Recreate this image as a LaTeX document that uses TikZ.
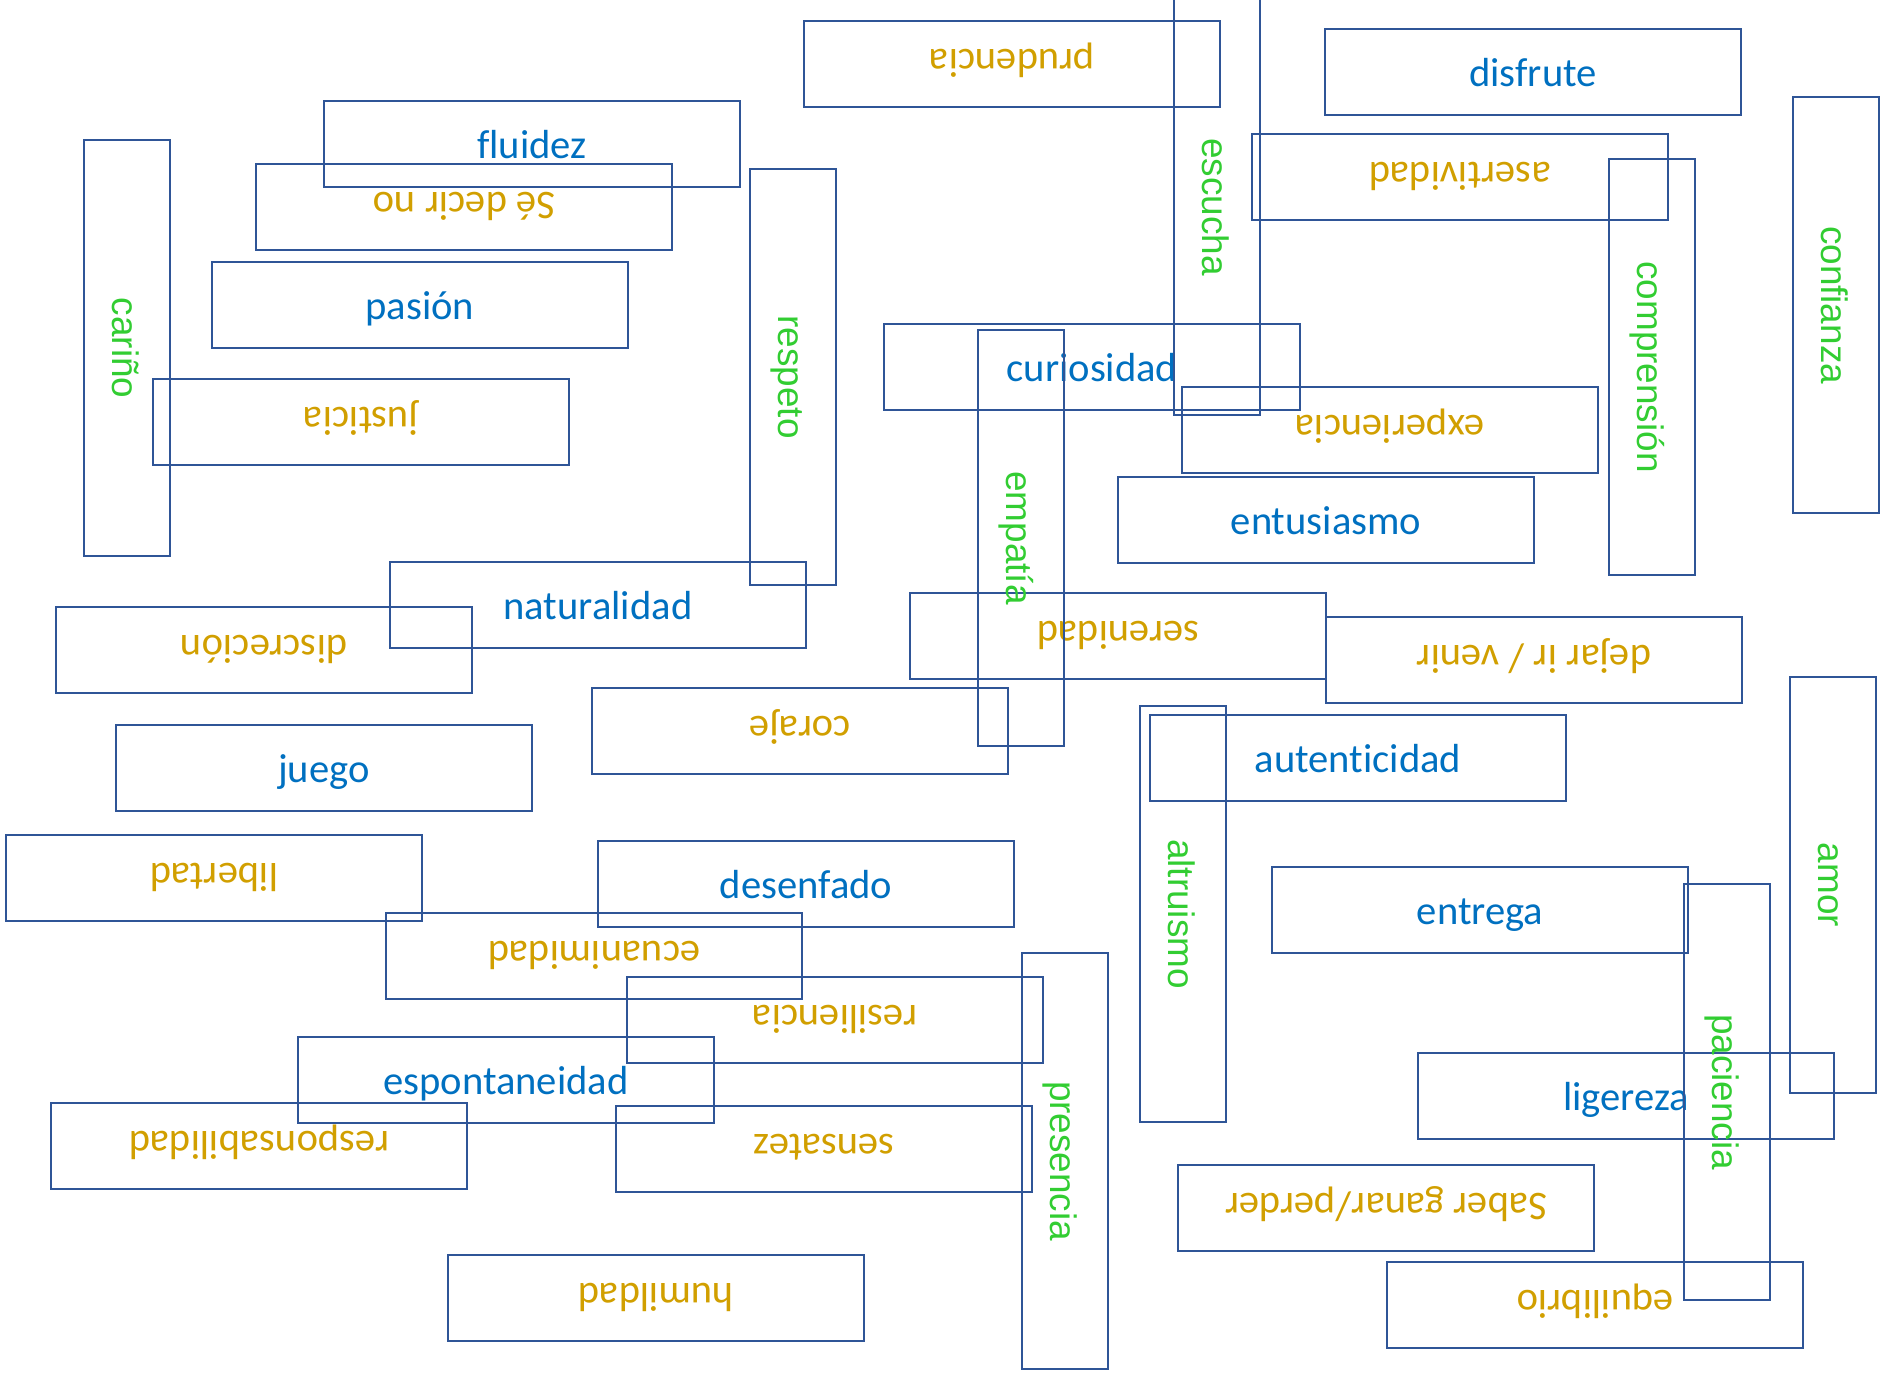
\documentclass[tikz,border=0pt]{standalone}
\usepackage{fontspec}
\setmainfont{Carlito}[Ligatures=NoCommon]
\newfontfamily\armfont{Liberation Sans}
\usepackage{tikz}
\definecolor{boxblue}{RGB}{47,85,151}
\definecolor{wordblue}{RGB}{0,112,192}
\definecolor{wordgold}{RGB}{209,159,0}
\definecolor{wordgreen}{RGB}{50,205,50}
\tikzset{
  word/.style={draw=boxblue,line width=0.6pt,rectangle,inner sep=0pt,
    minimum width=4.16cm,minimum height=0.86cm,text height=0.8em,text depth=0pt},
  blueword/.style={word,text=wordblue,font=\fontsize{11.55}{14}\selectfont},
  goldword/.style={word,text=wordgold,rotate=180,font=\fontsize{11.55}{14}\selectfont},
  greenword/.style={word,text=wordgreen,rotate=-90,font=\armfont\fontsize{10.5}{13}\selectfont}
}
\begin{document}
\begin{tikzpicture}[x=1cm,y=-1cm]
\useasboundingbox (0,0) rectangle (18.83,13.76);
%upright words
\node[blueword] (disfrute) at (15.33,0.72) {disfrute};
\node[blueword] (fluidez) at (5.32,1.44) {fluidez};
\node[blueword] (pasion) at (4.20,3.05) {pasión};
\node[blueword] (curiosidad) at (10.92,3.67) {curiosidad};
\node[blueword] (entusiasmo) at (13.26,5.20) {entusiasmo};
\node[blueword] (naturalidad) at (5.98,6.05) {naturalidad};
\node[blueword] (juego) at (3.24,7.68) {juego};
\node[blueword] (autenticidad) at (13.58,7.58) {autenticidad};
\node[blueword] (desenfado) at (8.06,8.84) {desenfado};
\node[blueword] (entrega) at (14.80,9.10) {entrega};
\node[blueword] (espontaneidad) at (5.06,10.80) {espontaneidad};
\node[blueword] (ligereza) at (16.26,10.96) {ligereza};
%turned words
\node[goldword] (prudencia) at (10.12,0.64) {prudencia};
\node[goldword] (decirno) at (4.64,2.07) {Sé decir no};
\node[goldword] (asertividad) at (14.60,1.77) {asertividad};
\node[goldword] (justicia) at (3.61,4.22) {justicia};
\node[goldword] (experiencia) at (13.90,4.30) {experiencia};
\node[goldword] (discrecion) at (2.64,6.50) {discreción};
\node[goldword] (serenidad) at (11.18,6.36) {serenidad};
\node[goldword] (dejarir) at (15.34,6.60) {dejar ir / venir};
\node[goldword] (coraje) at (8.00,7.31) {coraje};
\node[goldword] (libertad) at (2.14,8.78) {libertad};
\node[goldword] (ecuanimidad) at (5.94,9.56) {ecuanimidad};
\node[goldword] (resiliencia) at (8.35,10.20) {resiliencia};
\node[goldword] (responsabilidad) at (2.59,11.46) {responsabilidad};
\node[goldword] (sensatez) at (8.24,11.49) {sensatez};
\node[goldword] (saberganar) at (13.86,12.08) {Saber ganar/perder};
\node[goldword] (humildad) at (6.56,12.98) {humildad};
\node[goldword] (equilibrio) at (15.95,13.05) {equilibrio};
%standing words
\node[greenword] (escucha) at (12.17,2.07) {escucha};
\node[greenword] (carino) at (1.27,3.48) {cariño};
\node[greenword] (respeto) at (7.93,3.77) {respeto};
\node[greenword] (confianza) at (18.36,3.05) {confianza};
\node[greenword] (comprension) at (16.52,3.67) {comprensión};
\node[greenword] (empatia) at (10.21,5.38) {empatía};
\node[greenword] (altruismo) at (11.83,9.14) {altruismo};
\node[greenword] (amor) at (18.33,8.85) {amor};
\node[greenword] (presencia) at (10.65,11.61) {presencia};
\node[greenword] (paciencia) at (17.27,10.92) {paciencia};
\end{tikzpicture}
\end{document}
